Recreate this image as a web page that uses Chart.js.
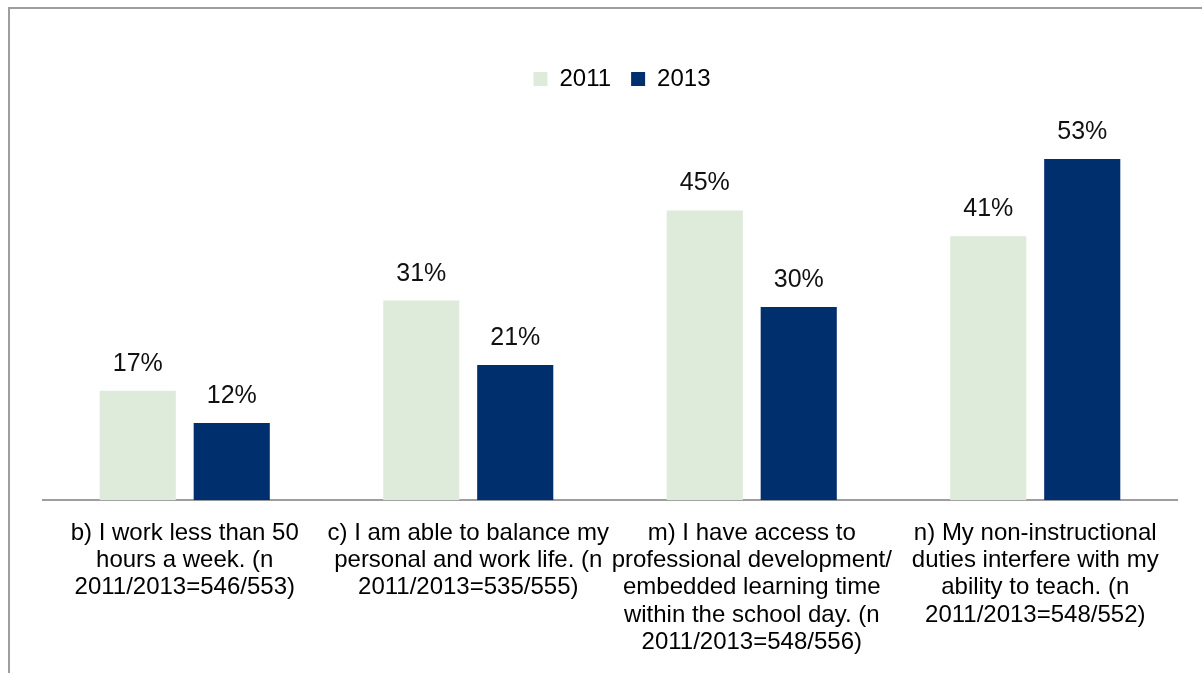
<!DOCTYPE html>
<html>
<head>
<meta charset="utf-8">
<script src="https://cdn.jsdelivr.net/npm/chart.js@4/dist/chart.umd.min.js"></script>
<style>
  html, body { margin: 0; padding: 0; background: #ffffff; }
  #wrap { width: 1202px; height: 673px; position: relative; }
</style>
</head>
<body>
<div id="wrap"><canvas id="c" width="1202" height="673"></canvas></div>
<script>
// Survey items (multi-line axis labels)
const categories = [
  ["b) I work less than 50", "hours a week. (n", "2011/2013=546/553)"],
  ["c) I am able to balance my", "personal and work life. (n", "2011/2013=535/555)"],
  ["m) I have access to", "professional development/", "embedded learning time", "within the school day. (n", "2011/2013=548/556)"],
  ["n) My non-instructional", "duties interfere with my", "ability to teach. (n", "2011/2013=548/552)"]
];
const seriesNames = ["2011", "2013"];
const values2011 = [17, 31, 45, 41];
const values2013 = [12, 21, 30, 53];

const FONT = "'Liberation Sans', Arial, Helvetica, sans-serif";

// Outer frame lines (left and top edges)
const framePlugin = {
  id: 'frame',
  beforeDraw(chart) {
    const ctx = chart.ctx;
    ctx.save();
    ctx.fillStyle = '#fff';
    ctx.fillRect(0, 0, chart.width, chart.height);
    ctx.fillStyle = '#9e9e9e';
    ctx.fillRect(8, 7, 2, chart.height - 7);
    ctx.fillRect(8, 7, chart.width - 8, 2);
    ctx.restore();
  }
};

// Percentage labels above each bar
const valueLabels = {
  id: 'valueLabels',
  afterDatasetsDraw(chart) {
    const ctx = chart.ctx;
    ctx.save();
    ctx.font = '25px ' + FONT;
    ctx.fillStyle = '#111';
    ctx.textAlign = 'center';
    ctx.textBaseline = 'alphabetic';
    chart.data.datasets.forEach((ds, i) => {
      chart.getDatasetMeta(i).data.forEach((bar, j) => {
        ctx.fillText(ds.data[j] + '%', bar.x, bar.y - 20);
      });
    });
    ctx.restore();
  }
};

new Chart(document.getElementById('c'), {
  type: 'bar',
  data: {
    labels: categories,
    datasets: [
      { label: seriesNames[0], data: values2011, backgroundColor: '#deebdb' },
      { label: seriesNames[1], data: values2013, backgroundColor: '#002f6e' }
    ]
  },
  options: {
    responsive: false,
    animation: false,
    devicePixelRatio: 1,
    layout: { padding: { left: 43, right: 1, top: 47, bottom: 6 } },
    plugins: {
      legend: {
        position: 'top',
        labels: {
          boxWidth: 14,
          boxHeight: 14,
          padding: 20,
          color: '#000',
          font: { family: FONT, size: 24 }
        }
      },
      tooltip: { enabled: false }
    },
    datasets: {
      bar: { categoryPercentage: 0.663, barPercentage: 0.81 }
    },
    scales: {
      x: {
        grid: { display: false },
        border: { display: true, color: '#9e9e9e', width: 2 },
        ticks: {
          color: '#000',
          maxRotation: 0,
          autoSkip: false,
          padding: 11,
          font: { family: FONT, size: 24, lineHeight: 1.14 }
        }
      },
      y: {
        position: 'right',
        min: 0,
        max: 62,
        grid: { display: false },
        border: { display: false },
        ticks: { display: false },
        afterFit(scale) { scale.width = 24; }
      }
    }
  },
  plugins: [framePlugin, valueLabels]
});
</script>
</body>
</html>
